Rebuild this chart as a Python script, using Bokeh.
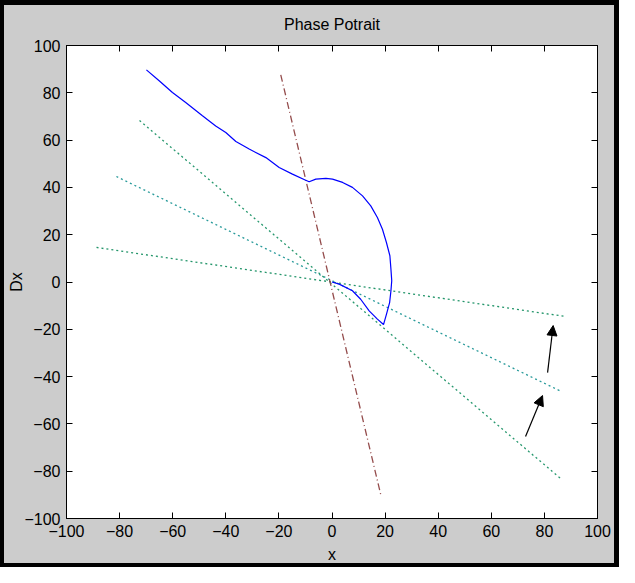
from bokeh.plotting import figure
from bokeh.models import Range1d, LinearAxis, FixedTicker, Arrow, NormalHead, InlineStyleSheet
from bokeh.embed import file_html
from bokeh.resources import INLINE

# ---- data ----
x_ticks = [-100, -80, -60, -40, -20, 0, 20, 40, 60, 80, 100]
y_ticks = [-100, -80, -60, -40, -20, 0, 20, 40, 60, 80, 100]

traj_x = [-69.9, -65.1, -60.1, -55.1, -48.8, -43.8, -40.0, -36.2, -31.2, -24.9,
          -19.9, -14.9, -9.9, -8.6, -6.1, -2.3, 0.2, 4.0, 7.7, 11.5,
          14.6, 17.1, 19.0, 20.5, 21.8, 22.2, 22.5, 22.2, 21.7, 20.5,
          19.4, 17.1, 14.0, 10.8, 7.7, 2.7, 0.0]
traj_y = [89.7, 85.1, 80.1, 75.9, 70.3, 66.0, 63.2, 59.4, 56.2, 52.6,
          48.4, 45.6, 43.0, 42.4, 43.5, 43.8, 43.5, 42.1, 40.0, 36.4,
          32.2, 27.3, 22.3, 16.7, 11.1, 5.4, 0.5, -3.7, -8.7, -13.7,
          -18.0, -15.7, -12.2, -7.3, -3.7, -0.9, 0.0]

eig1_x = [-88.7, 88.0]
eig1_y = [14.6, -14.6]
eig2_x = [-81.2, 86.4]
eig2_y = [44.6, -46.3]
eig3_x = [-72.5, 86.1]
eig3_y = [68.3, -83.1]

sep_x = [-19.3, 18.4]
sep_y = [87.6, -90.1]

arrow_tail_x = [81.2, 72.9]
arrow_tail_y = [-38.3, -65.3]
arrow_tip_x = [83.3, 79.3]
arrow_tip_y = [-18.4, -48.0]

FONT = "Liberation Sans"

p = figure(width=619, height=567, output_backend="svg", toolbar_location=None,
           x_range=Range1d(-100, 100), y_range=Range1d(-100, 100),
           title="Phase Potrait",
           min_border_left=66, min_border_right=22,
           min_border_top=45, min_border_bottom=49)

p.background_fill_color = "white"
p.border_fill_color = "#cccccc"
p.outline_line_color = "black"
p.outline_line_width = 1
p.grid.visible = False
p.stylesheets = [InlineStyleSheet(css="""
:host { position: relative; }
:host::after {
  content: ""; position: absolute; left: 0; top: 0; right: 0; bottom: 0;
  border-style: solid; border-color: black; border-width: 5px 5px 4px 4px;
  box-sizing: border-box; pointer-events: none; z-index: 1000;
}
""")]

p.title.text_font = FONT
p.title.text_font_size = "16px"
p.title.text_font_style = "normal"
p.title.align = "center"
p.title.text_color = "black"
p.title.standoff = 25

for ax, ticks in ((p.xaxis[0], x_ticks), (p.yaxis[0], y_ticks)):
    ax.ticker = FixedTicker(ticks=ticks)
    ax.major_tick_in = 6
    ax.major_tick_out = 0
    ax.minor_tick_line_color = None
    ax.axis_line_color = "black"
    ax.major_tick_line_color = "black"
    ax.major_label_text_font = FONT
    ax.major_label_text_font_size = "16px"
    ax.major_label_text_color = "black"
    ax.axis_label_text_font = FONT
    ax.axis_label_text_font_size = "16px"
    ax.axis_label_text_font_style = "normal"
    ax.axis_label_text_color = "black"

p.xaxis.axis_label = "x"
p.yaxis.axis_label = "Dx"
p.xaxis.major_label_standoff = 6
p.xaxis.axis_label_standoff = 6
p.yaxis.major_label_standoff = 6
p.yaxis.axis_label_standoff = -4

top = LinearAxis(ticker=FixedTicker(ticks=x_ticks), major_tick_in=6, major_tick_out=0,
                 minor_tick_line_color=None, major_label_text_font_size="1px",
                 major_label_text_color=None,
                 major_label_standoff=0, axis_line_color="black")
right = LinearAxis(ticker=FixedTicker(ticks=y_ticks), major_tick_in=6, major_tick_out=0,
                   minor_tick_line_color=None, major_label_text_font_size="1px",
                   major_label_text_color=None,
                   major_label_standoff=0, axis_line_color="black")
p.add_layout(top, "above")
p.add_layout(right, "right")

# eigen-direction lines (dotted)
p.line(eig1_x, eig1_y, line_color="#23956a", line_width=1.3, line_dash="2 3")
p.line(eig2_x, eig2_y, line_color="#2a9b9b", line_width=1.3, line_dash="2 3")
p.line(eig3_x, eig3_y, line_color="#27986e", line_width=1.3, line_dash="2 3")

# separatrix (dash-dot)
p.line(sep_x, sep_y, line_color="#944c4c", line_width=1.3, line_dash="7 3 1 3")

# trajectory
p.line(traj_x, traj_y, line_color="#0000ff", line_width=1.2)

for tx, ty, hx, hy in zip(arrow_tail_x, arrow_tail_y, arrow_tip_x, arrow_tip_y):
    p.add_layout(Arrow(x_start=tx, y_start=ty, x_end=hx, y_end=hy,
                       line_color="black", line_width=1.2,
                       end=NormalHead(size=10, fill_color="black", line_color="black")))

open("out.html", "w").write(file_html(p, INLINE))
